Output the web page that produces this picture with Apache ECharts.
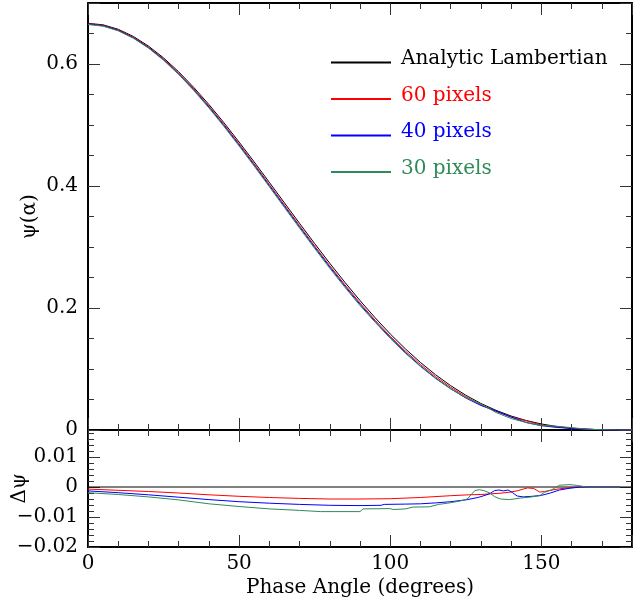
<!DOCTYPE html>
<html>
<head>
<meta charset="utf-8">
<script src="https://cdn.jsdelivr.net/npm/echarts@6/dist/echarts.min.js"></script>
<style>
  html, body { margin: 0; padding: 0; background: #fff; }
  #chart { width: 642px; height: 605px; }
</style>
</head>
<body>
<div id="chart"></div>
<script>
'use strict';

// phase angle grid for the upper panel (degrees)
var phase = [0, 5, 10, 15, 20, 25, 30, 35, 40, 45, 50, 55, 60, 65, 70, 75, 80, 85, 90,
  95, 100, 105, 110, 115, 120, 125, 130, 135, 140, 145, 150, 155, 160, 165, 170, 175, 180];

var lambert = [0.6667, 0.6642, 0.6569, 0.6452, 0.6294, 0.6100, 0.5872, 0.5616, 0.5336, 0.5036,
  0.4720, 0.4394, 0.4060, 0.3723, 0.3388, 0.3056, 0.2733, 0.2421, 0.2122, 0.1840, 0.1575,
  0.1331, 0.1107, 0.0906, 0.0727, 0.0570, 0.0435, 0.0322, 0.0229, 0.0155, 0.0099, 0.0058,
  0.0030, 0.0013, 0.0004, 0.0000, 0.0000];
var psi60 = [0.6660, 0.6633, 0.6558, 0.6439, 0.6279, 0.6082, 0.5852, 0.5593, 0.5310, 0.5007,
  0.4689, 0.4361, 0.4025, 0.3687, 0.3350, 0.3017, 0.2693, 0.2381, 0.2082, 0.1800, 0.1536,
  0.1295, 0.1074, 0.0876, 0.0700, 0.0546, 0.0415, 0.0305, 0.0212, 0.0150, 0.0082, 0.0050,
  0.0028, 0.0013, 0.0004, 0.0000, 0.0000];
var psi40 = [0.6654, 0.6626, 0.6550, 0.6429, 0.6268, 0.6070, 0.5838, 0.5578, 0.5294, 0.4990,
  0.4671, 0.4342, 0.4006, 0.3667, 0.3330, 0.2996, 0.2672, 0.2359, 0.2060, 0.1779, 0.1515,
  0.1272, 0.1050, 0.0852, 0.0677, 0.0525, 0.0402, 0.0311, 0.0212, 0.0123, 0.0071, 0.0043,
  0.0024, 0.0013, 0.0004, 0.0000, 0.0000];
var psi30 = [0.6648, 0.6620, 0.6544, 0.6423, 0.6261, 0.6062, 0.5829, 0.5566, 0.5280, 0.4975,
  0.4655, 0.4325, 0.3987, 0.3647, 0.3310, 0.2976, 0.2651, 0.2339, 0.2040, 0.1767, 0.1502,
  0.1259, 0.1041, 0.0843, 0.0674, 0.0530, 0.0425, 0.0287, 0.0188, 0.0122, 0.0072, 0.0062,
  0.0038, 0.0014, 0.0004, 0.0000, 0.0000];

// residuals (model - analytic), [phase, delta]
var diff60 = [[0, -0.0007], [10, -0.0011], [20, -0.0015], [30, -0.0020], [40, -0.0026],
  [50, -0.0031], [60, -0.0035], [70, -0.0038], [80, -0.0040], [90, -0.0040], [100, -0.0039],
  [110, -0.0035], [120, -0.0029], [126, -0.0026], [130, -0.0025], [133, -0.0023],
  [136, -0.0021], [139, -0.0018], [142, -0.0013], [144, -0.0007], [145.5, -0.0003],
  [147.5, -0.0005], [149.5, -0.0017], [151, -0.0015], [153, -0.0011], [156, -0.0006],
  [159, -0.0003], [163, 0], [170, 0], [176, 0]];
var diff40 = [[0, -0.0013], [10, -0.0019], [20, -0.0026], [30, -0.0034], [40, -0.0042],
  [50, -0.0049], [60, -0.0054], [70, -0.0058], [80, -0.0061], [90, -0.0062], [97, -0.0061],
  [98, -0.0058], [105, -0.0057], [110, -0.0056], [115, -0.0053], [120, -0.0049],
  [125, -0.0043], [129, -0.0035], [131, -0.0029], [133, -0.0022], [134.5, -0.0012],
  [136, -0.0010], [137.5, -0.0013], [139, -0.0010], [140.5, -0.0019], [142, -0.0030],
  [144, -0.0033], [147, -0.0031], [150, -0.0028], [153, -0.0020], [156, -0.0010],
  [159.5, -0.0004], [163, 0], [170, 0], [176, 0]];
var diff30 = [[0, -0.0019], [10, -0.0025], [20, -0.0033], [30, -0.0043], [40, -0.0056],
  [50, -0.0065], [60, -0.0073], [70, -0.0078], [77, -0.0082], [90, -0.0082], [91, -0.0073],
  [100, -0.0072], [101, -0.0075], [105, -0.0073], [107.5, -0.0067], [113, -0.0066],
  [116, -0.0058], [119, -0.0054], [123, -0.0047], [125.5, -0.0040], [127, -0.0023],
  [128, -0.0012], [129.5, -0.0009], [131, -0.0012], [133, -0.0020], [134.5, -0.0032],
  [136.5, -0.0040], [139.5, -0.0042], [143, -0.0037], [146, -0.0034], [149.5, -0.0029],
  [151, -0.0018], [153.5, -0.0009], [156, 0.0006], [159.5, 0.0008], [162, 0.0005],
  [165, 0], [170, 0], [176, 0]];
var diffZero = [[0, 0], [180, 0]];

var names = ['Analytic Lambertian', '60 pixels', '40 pixels', '30 pixels'];
var colors = ['#000000', '#ff0000', '#0000ff', '#2e8b57'];

var font = 'DejaVu Serif';

function pairs(xs, ys) {
  return xs.map(function (x, i) { return [x, ys[i]]; });
}

function minus(v) {
  if (v === 0) return '0';
  return String(+v.toFixed(4)).replace('-', '\u2212');
}

function xAxis(grid, pos, withLabels) {
  return {
    type: 'value', gridIndex: grid, position: pos,
    min: 0, max: 180, interval: 50,
    name: withLabels ? 'Phase Angle (degrees)' : '',
    nameLocation: 'middle', nameGap: 31, nameMoveOverlap: false,
    nameTextStyle: { fontSize: 20, color: '#000', fontFamily: font },
    axisLine: { onZero: false, lineStyle: { color: '#000', width: 2 } },
    axisTick: { inside: true, length: 12, lineStyle: { color: '#333' } },
    minorTick: { show: true, splitNumber: 5, length: 6, lineStyle: { color: '#333' } },
    splitLine: { show: false },
    axisLabel: { show: withLabels, showMaxLabel: false, fontSize: 20, color: '#000', margin: 7, fontFamily: font }
  };
}

function yAxis(grid, pos, range, name, gap) {
  var left = pos === 'left';
  return {
    type: 'value', gridIndex: grid, position: pos,
    min: range[0], max: range[1], interval: range[2],
    name: left ? name : '', nameLocation: 'middle', nameGap: gap, nameMoveOverlap: false,
    nameTextStyle: { fontSize: 20, color: '#000', fontFamily: font },
    axisLine: { onZero: false, lineStyle: { color: '#000', width: 2 } },
    axisTick: { inside: true, length: 12, lineStyle: { color: '#333' } },
    minorTick: { show: true, splitNumber: range[3], length: 6, lineStyle: { color: '#333' } },
    splitLine: { show: false },
    axisLabel: { show: left, showMaxLabel: false, fontSize: 20, color: '#000', margin: 10,
      fontFamily: font, formatter: minus }
  };
}

function line(name, data, color, xi, yi) {
  return {
    name: name, type: 'line', data: data,
    xAxisIndex: xi, yAxisIndex: yi,
    symbol: 'none', color: color,
    lineStyle: { width: 1, color: color },
    animation: false
  };
}

var series = [
  line(names[0], pairs(phase, lambert), colors[0], 0, 0),
  line(names[1], pairs(phase, psi60), colors[1], 0, 0),
  line(names[2], pairs(phase, psi40), colors[2], 0, 0),
  line(names[3], pairs(phase, psi30), colors[3], 0, 0),
  line(names[0], diffZero, colors[0], 2, 2),
  line(names[1], diff60, colors[1], 2, 2),
  line(names[2], diff40, colors[2], 2, 2),
  line(names[3], diff30, colors[3], 2, 2)
];

var option = {
  animation: false,
  backgroundColor: '#fff',
  textStyle: { fontFamily: font },
  grid: [
    { left: 88, top: 3, width: 544, height: 427, outerBoundsMode: 'none', containLabel: false },
    { left: 88, top: 430, width: 544, height: 117, outerBoundsMode: 'none', containLabel: false }
  ],
  xAxis: [
    xAxis(0, 'bottom', false),
    xAxis(0, 'top', false),
    xAxis(1, 'bottom', true),
    xAxis(1, 'top', false)
  ],
  yAxis: [
    yAxis(0, 'left', [0, 0.7, 0.2, 4], '\u03c8(\u03b1)', 48),
    yAxis(0, 'right', [0, 0.7, 0.2, 4], '', 0),
    yAxis(1, 'left', [-0.02, 0.019, 0.01, 5], '\u0394\u03c8', 58),
    yAxis(1, 'right', [-0.02, 0.019, 0.01, 5], '', 0)
  ],
  legend: {
    orient: 'vertical', left: 325, top: 44,
    itemWidth: 60, itemHeight: 14, itemGap: 9.5,
    selectedMode: false,
    itemStyle: { opacity: 0 },
    formatter: function (n) { return '{t|' + n + '}'; },
    textStyle: {
      fontSize: 20, fontFamily: font,
      rich: { t: { fontSize: 20, fontFamily: font, lineHeight: 20, padding: [0, 0, 7, 5] } }
    },
    data: names.map(function (n, i) {
      return { name: n, textStyle: { color: colors[i] } };
    })
  },
  series: series
};

var chart = echarts.init(document.getElementById('chart'), null, { renderer: 'canvas' });
chart.setOption(option);
</script>
</body>
</html>
